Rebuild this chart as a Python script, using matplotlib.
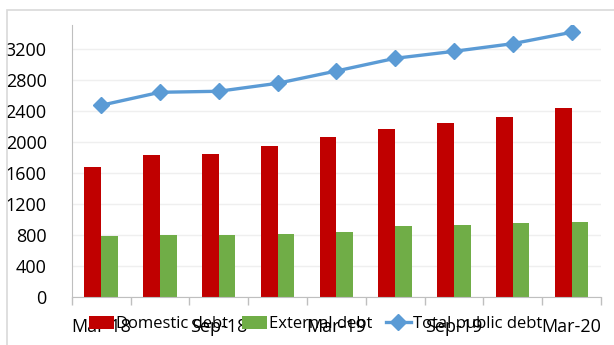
import numpy as np
import matplotlib.pyplot as plt
from matplotlib.patches import Rectangle

plt.rcParams['font.family'] = ['Open Sans', 'DejaVu Sans']

#Quarterly public debt figures.
periods = ['Mar-18', 'Jun-18', 'Sep-18', 'Dec-18', 'Mar-19',
           'Jun-19', 'Sep-19', 'Dec-19', 'Mar-20']
domestic_debt = [1680, 1835, 1848, 1943, 2065, 2163, 2240, 2318, 2442]
external_debt = [788, 797, 801, 810, 840, 913, 926, 948, 965]
total_debt = [2473, 2641, 2654, 2757, 2916, 3080, 3170, 3269, 3416]
y_ticks = list(range(0, 3201, 400))

fig = plt.figure(figsize=(6.14, 3.45), dpi=100)
ax = fig.add_axes([0.1168, 0.14, 0.862, 0.7875])

#Light gray chart border, like the Excel chart area.
fig.patches.append(Rectangle((7 / 614, -0.05), 1.0, 1 - 10 / 345 + 0.05,
                             transform=fig.transFigure, fill=False,
                             edgecolor='#D9D9D9', linewidth=1.2))

x = np.arange(len(periods))
w = 0.284
b1 = ax.bar(x - w / 2, domestic_debt, width=w, color='#C00000', label='Domestic debt', zorder=2)
b2 = ax.bar(x + w / 2, external_debt, width=w, color='#70AD47', label='External debt', zorder=2)
l1, = ax.plot(x, total_debt, color='#5B9BD5', linewidth=2.4, marker='D', markersize=8,
              label='Total public debt', zorder=3)

#Axis details.
ax.set_xlim(-0.5, len(periods) - 0.5)
ax.set_ylim(0, 3510)
ax.set_yticks(y_ticks)
ax.tick_params(axis='y', length=0, labelsize=13, pad=18)
ax.set_xticks(x[::2])
ax.set_xticklabels(periods[::2])
ax.set_xticks(np.arange(-0.5, len(periods)), minor=True)
ax.tick_params(axis='x', which='major', length=0, labelsize=13, pad=15)
ax.tick_params(axis='x', which='minor', length=6, color='#BFBFBF', width=1)
ax.grid(axis='y', color='#EFEFEF', linewidth=1, zorder=0)
for side in ['top', 'right']:
    ax.spines[side].set_visible(False)
ax.spines['left'].set_color('#BFBFBF')
ax.spines['bottom'].set_color('#BFBFBF')

#Legend sits on top of the category labels, as in the original.
fig.legend(handles=[b1, b2, l1], loc='center', bbox_to_anchor=(0.514, 0.061), ncol=3,
           frameon=False, fontsize=12, handlelength=1.5, handleheight=0.9,
           handletextpad=0.15, columnspacing=0.8)

fig.savefig('out.png', dpi=100)
